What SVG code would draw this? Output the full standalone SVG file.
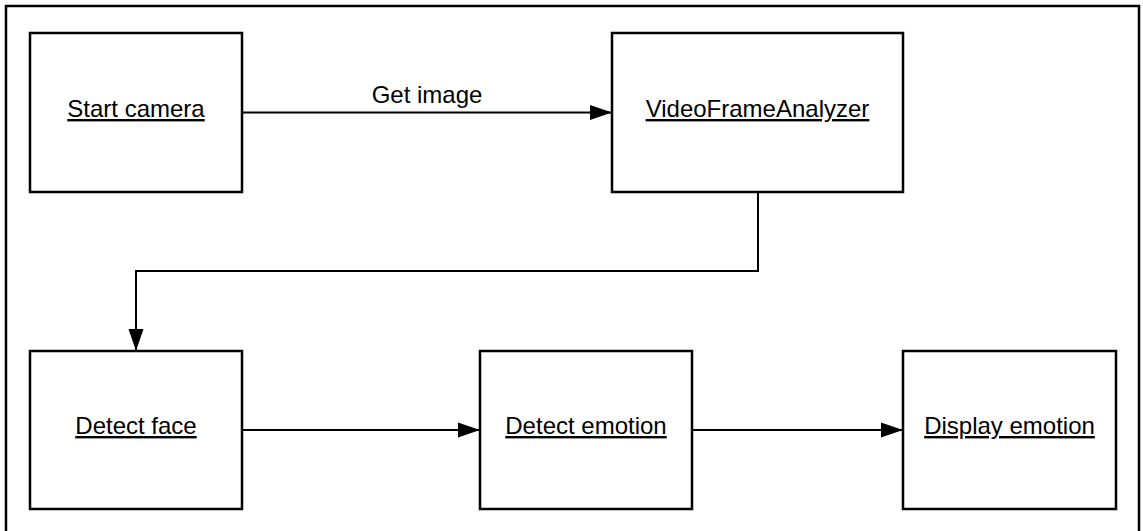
<svg xmlns="http://www.w3.org/2000/svg" width="1143" height="531" viewBox="0 0 1143 531">
  <style>
    .box { fill: #ffffff; stroke: #000000; stroke-width: 2.5; }
    .lbl { font-family: "Liberation Sans", Arial, sans-serif; font-size: 24px; fill: #000000; text-anchor: middle; }
    .ul { text-decoration: underline; }
    .conn { fill: none; stroke: #000000; stroke-width: 2; }
  </style>
  <defs>
    <marker id="arrow" markerUnits="userSpaceOnUse" markerWidth="22" markerHeight="16" refX="22" refY="7.5" orient="auto" viewBox="0 0 22 15">
      <path d="M0,0 L22,7.5 L0,15 z" fill="#000000"/>
    </marker>
  </defs>
  <rect x="0" y="0" width="1143" height="531" fill="#ffffff"/>
  <rect id="frame" x="6" y="6" width="1133" height="540" fill="none" stroke="#000000" stroke-width="2.5"/>

  <g id="connectors">
    <line class="conn" x1="242" y1="112.5" x2="612" y2="112.5" marker-end="url(#arrow)"/>
    <text class="lbl" x="427" y="103">Get image</text>
    <polyline class="conn" points="758,192 758,271 136,271 136,351" marker-end="url(#arrow)"/>
    <line class="conn" x1="242" y1="430" x2="480" y2="430" marker-end="url(#arrow)"/>
    <line class="conn" x1="692" y1="430" x2="903" y2="430" marker-end="url(#arrow)"/>
  </g>

  <g id="start-camera">
    <rect class="box" x="30" y="33" width="212" height="159"/>
    <text class="lbl ul" x="136" y="117">Start camera</text>
  </g>
  <g id="video-frame-analyzer">
    <rect class="box" x="612" y="33" width="291" height="159"/>
    <text class="lbl ul" x="757.5" y="117">VideoFrameAnalyzer</text>
  </g>
  <g id="detect-face">
    <rect class="box" x="30" y="351" width="212" height="158"/>
    <text class="lbl ul" x="136" y="434">Detect face</text>
  </g>
  <g id="detect-emotion">
    <rect class="box" x="480" y="351" width="212" height="158"/>
    <text class="lbl ul" x="586" y="434">Detect emotion</text>
  </g>
  <g id="display-emotion">
    <rect class="box" x="903" y="351" width="213" height="158"/>
    <text class="lbl ul" x="1009.5" y="434">Display emotion</text>
  </g>
</svg>
